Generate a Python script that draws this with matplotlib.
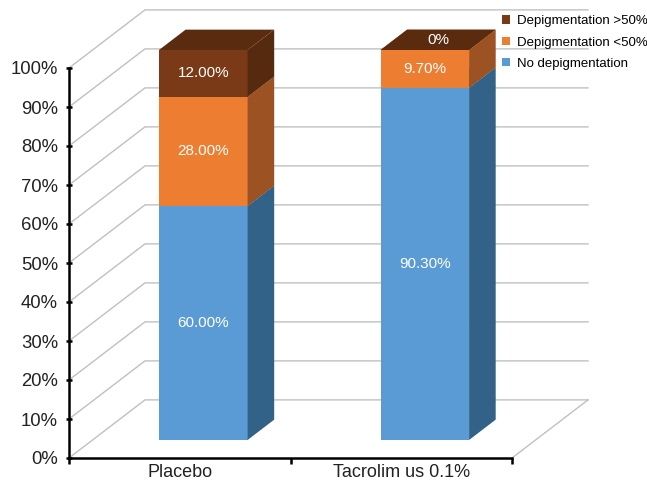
import matplotlib.pyplot as plt
from matplotlib.patches import Polygon
from matplotlib.lines import Line2D

plt.rcParams['font.family'] = ['Liberation Sans', 'DejaVu Sans']

groups = ["Placebo", "Tacrolim us 0.1%"]
series = ["No depigmentation", "Depigmentation <50%", "Depigmentation >50%"]
no_depig = [60.0, 90.3]
depig_lt50 = [28.0, 9.7]
depig_gt50 = [12.0, 0.0]
labels = [["60.00%", "90.30%"], ["28.00%", "9.70%"], ["12.00%", "0%"]]
y_ticks = [0, 10, 20, 30, 40, 50, 60, 70, 80, 90, 100]

# front / side / top colours for each stack level
face_cols = ["#5b9bd5", "#ed7d31", "#7a3a17"]
side_cols = ["#336288", "#9c5222", "#552a0f"]
top_cols = ["#4a86bd", "#c9692b", "#5a2b0f"]

# oblique projection of the depth axis (data units per full depth)
DX, DY = 0.343, 14.9
bar_w = 0.4
d0, d1 = 0.31, 0.66   # bar depth span as fraction of full depth

fig = plt.figure(figsize=(6.47, 4.83), dpi=100)
ax = fig.add_axes([69 / 647, 25 / 483, 443 / 647, 390 / 483])
ax.set_xlim(0, 2)
ax.set_ylim(0, 100)


def proj(x, y, d):
    return (x + d * DX, y + d * DY)


# back wall and side wall grid
grid_kw = dict(color="#c0c0c0", lw=1.0, clip_on=False, zorder=1)
for v in y_ticks:
    xs = [0, DX, 2 + DX]
    ys = [v, v + DY, v + DY]
    ax.add_line(Line2D(xs, ys, **grid_kw))
ax.add_line(Line2D([2, 2 + DX], [0, DY], **grid_kw))

stacks = [no_depig, depig_lt50, depig_gt50]
for i in range(len(groups)):
    x0 = i + 0.5 - bar_w / 2
    x1 = i + 0.5 + bar_w / 2
    base = 0.0
    for k, vals in enumerate(stacks):
        h = vals[i]
        top = base + h
        front = [proj(x0, base, d0), proj(x1, base, d0), proj(x1, top, d0), proj(x0, top, d0)]
        side = [proj(x1, base, d0), proj(x1, base, d1), proj(x1, top, d1), proj(x1, top, d0)]
        lid = [proj(x0, top, d0), proj(x1, top, d0), proj(x1, top, d1), proj(x0, top, d1)]
        if h > 0:
            ax.add_patch(Polygon(front, closed=True, fc=face_cols[k], ec="none", clip_on=False, zorder=3))
            ax.add_patch(Polygon(side, closed=True, fc=side_cols[k], ec="none", clip_on=False, zorder=3))
        ax.add_patch(Polygon(lid, closed=True, fc=top_cols[k], ec="none", clip_on=False, zorder=3))
        if h > 0:
            cx, cy = proj(i + 0.5, base + h / 2, d0)
        else:
            # empty segment: label sits on the lid
            cx, cy = proj(i + 0.5, top, (d0 + d1) / 2)
        ax.text(cx, cy, labels[k][i], color="white", fontsize=11,
                ha="center", va="center", zorder=4)
        base = top

# axes styling
for s in ["top", "right"]:
    ax.spines[s].set_visible(False)
ax.spines["left"].set_linewidth(1.8)
ax.spines["bottom"].set_linewidth(1.8)
ax.set_yticks(y_ticks)
ax.set_yticklabels([f"{v}%" for v in y_ticks], fontsize=13.3, color="#222222")
ax.set_xticks([0, 1, 2])
ax.set_xticklabels([])
ax.set_xticks([0.5, 1.5], minor=True)
ax.set_xticklabels(groups, minor=True, fontsize=13, color="#222222")
ax.tick_params(axis="x", which="minor", length=0, pad=4)
ax.tick_params(axis="x", which="major", length=4, width=1.8, direction="out")
ax.tick_params(axis="y", length=4, width=1.8, direction="inout", pad=6)
ax.patch.set_visible(False)

# legend, listed top to bottom as stacked
handles = [plt.Rectangle((0, 0), 1, 1, fc=face_cols[k]) for k in (2, 1, 0)]
fig.legend(handles, [series[k] for k in (2, 1, 0)], loc="upper left",
           bbox_to_anchor=(497 / 647, 1 - 10 / 483), frameon=False,
           fontsize=9.5, handlelength=0.6, handleheight=0.6, handletextpad=0.5,
           labelspacing=0.7, borderaxespad=0)

fig.savefig("out.png", dpi=100)
